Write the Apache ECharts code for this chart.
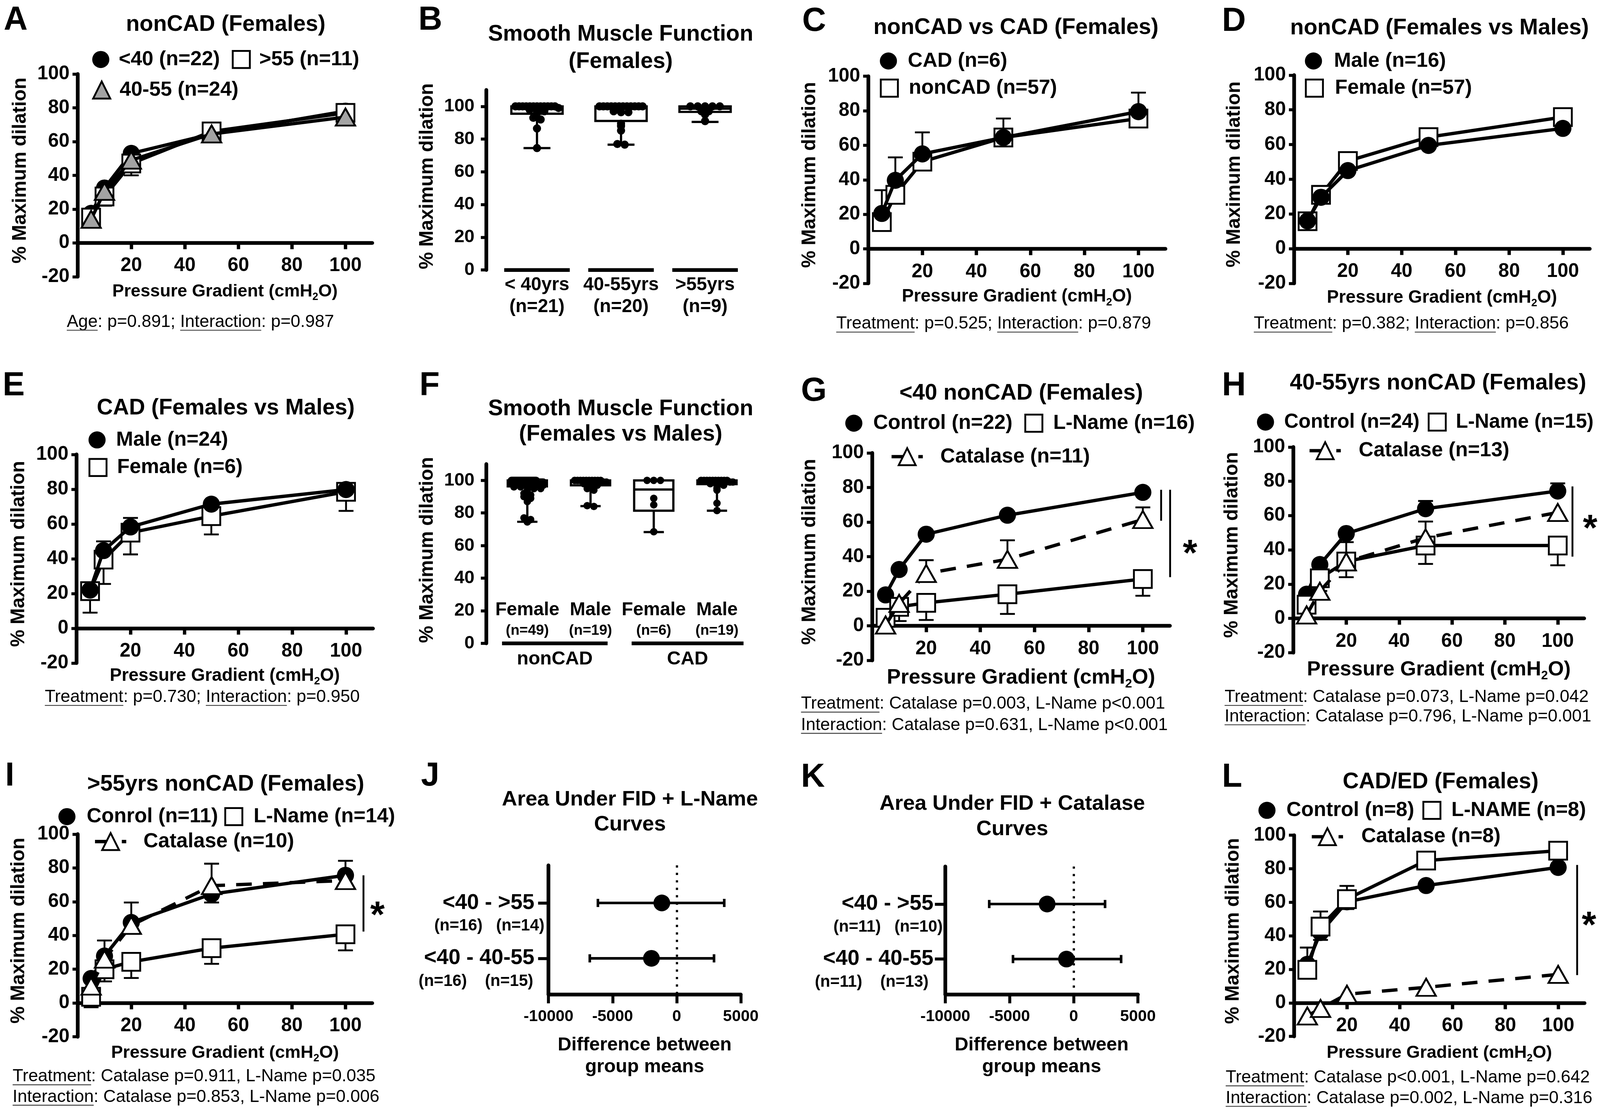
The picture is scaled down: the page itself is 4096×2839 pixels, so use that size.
<!DOCTYPE html>
<html><head><meta charset="utf-8">
<script src="https://cdn.jsdelivr.net/npm/echarts@6/dist/echarts.min.js"></script>
<style>html,body{margin:0;padding:0;background:#fff}#c{width:4096px;height:2839px}</style>
</head><body><div id="c"></div>
<script>
// ================= DATA =================
const pressure = [5, 10, 20, 50, 100];
const pressureTicks = [20, 40, 60, 80, 100];
const boxTicks = [0, 20, 40, 60, 80, 100];

// A
const aNames = ['<40 (n=22)', '>55 (n=11)', '40-55 (n=24)'];
const aUnder40 = [17.5, 32.5, 53, 64.5, 78];
const aOver55 = [15, 27.5, 47, 66, 77];
const aOver55Lo = [null, 22, 40, null, null];
const a40to55 = [14, 30.5, 49, 64.5, 74.5];
// B
const bGroups = ['< 40yrs', '40-55yrs', '>55yrs'];
const bN = ['(n=21)', '(n=20)', '(n=9)'];
const bBox = [[74.5, 95.5, 99, 100, 100], [76.6, 91.1, 99.5, 100, 100], [90.5, 96.6, 98.6, 100, 100]];
const bPoints = [
  [100,100,100,100,100,100,100,100,100,100,100,100,99,98,97,97,96,93,92,86.5,74.5],
  [100,100,100,100,100,100,100,100,100,100,100,100,97,96.4,96.4,89.4,88,85.2,77,76.6],
  [100,100,100,100,100,97,97,95,91]
];
// C
const cNames = ['CAD (n=6)', 'nonCAD (n=57)'];
const cCAD = [20.5, 39.7, 55, 64.5, 79.5];
const cCADHi = [34, 53, 67.5, 75.5, 90.5];
const cNonCAD = [15.5, 31.3, 50.5, 64.5, 75.5];
// D
const dNames = ['Male (n=16)', 'Female (n=57)'];
const dMale = [16, 29.6, 45, 59.5, 69.3];
const dFemale = [15.8, 31, 50.5, 64.3, 75.8];
// E
const eNames = ['Male (n=24)', 'Female (n=6)'];
const eMale = [22, 44.7, 58.3, 71.4, 79.8];
const eMaleHi = [null, 50, 63.5, null, null];
const eFemale = [21.4, 39.5, 55, 64.5, 78.5];
const eFemaleLo = [9, 25.5, 42.5, 54, 67.5];
// F
const fSex = ['Female', 'Male', 'Female', 'Male'];
const fN = ['(n=49)', '(n=19)', '(n=6)', '(n=19)'];
const fGroups = ['nonCAD', 'CAD'];
const fBox = [[74.6, 96.3, 99, 100, 100], [84.2, 97, 99.5, 100, 100], [68.3, 81.4, 94.4, 100, 100], [81.4, 97.7, 99.5, 100, 100]];
const fPoints = [
  [100,100,100,100,100,100,100,100,100,100,100,100,100,100,100,100,100,100,100,100,100,100,99,99,99,99,99,99,98,98,98,98,97,97,97,96,96,96,95,95,94,92,91,90,89,87,77,76,74.5],
  [100,100,100,100,100,100,100,100,100,100,99,99,98,97,97,95,94,84.5,84],
  [100,100,100,89,85,68.5],
  [100,100,100,100,100,100,100,100,100,100,99,99,98,97,97,95.2,94,86,81.5]
];
// G
const gNames = ['Control (n=22)', 'L-Name (n=16)', 'Catalase (n=11)'];
const gControl = [17.9, 32.6, 53, 64, 77.2];
const gLName = [4.7, 11, 13.3, 18.3, 27.1];
const gLNameLo = [null, 2.8, 3.4, 6.9, 17.4];
const gCatalase = [0.5, 13, 30.3, 38.5, 61.5];
const gCatalaseHi = [null, null, 38, 49.5, 68.5];
const sigG = [[106.7, 78.7, 60.8], [110, 78.7, 28.2]];
// H
const hNames = ['Control (n=24)', 'L-Name (n=15)', 'Catalase (n=13)'];
const hControl = [14.1, 31.4, 49.5, 64, 74.3];
const hControlHi = [null, null, null, 68.5, 78.8];
const hLName = [8, 23.4, 33.2, 42.5, 42.5];
const hLNameLo = [null, 16, 24, 31.8, 31];
const hCatalase = [2, 15.8, 33, 47, 61.8];
const hCatalaseHi = [null, null, 44.5, 56.5, null];
const sigH = [[105.5, 77, 36]];
// I
const iNames = ['Conrol (n=11)', 'L-Name (n=14)', 'Catalase (n=10)'];
const iControl = [14.5, 27.8, 47.7, 64.5, 75.6];
const iControlHi = [null, 37, 59.5, null, 84.2];
const iControlLo = [null, null, null, 59.5, null];
const iLName = [3.7, 20, 24.4, 32.5, 40.7];
const iLNameLo = [-2.5, 12.8, 14.8, 23.2, 31.2];
const iCatalase = [10, 26, 46, 69.5, 72.5];
const iCatalaseHi = [null, null, null, 82.5, null];
const sigI = [[106.7, 75.6, 42.3]];
// J
const jLabels = ['<40 - >55', '<40 - 40-55'];
const jGroupN = [['(n=16)', '(n=14)'], ['(n=16)', '(n=15)']];
const jMean = [-1160, -1970];
const jLow = [-6145, -6780];
const jHigh = [3710, 2913];
// K
const kLabels = ['<40 - >55', '<40 - 40-55'];
const kGroupN = [['(n=11)', '(n=10)'], ['(n=11)', '(n=13)']];
const kMean = [-2070, -565];
const kLow = [-6580, -4730];
const kHigh = [2440, 3690];
// L
const lNames = ['Control (n=8)', 'L-NAME (n=8)', 'Catalase (n=8)'];
const lControl = [23, 42, 60.3, 70, 80.8];
const lControlHi = [33, null, null, null, null];
const lControlLo = [null, 37.6, 56, null, null];
const lLName = [19.7, 45.5, 61.9, 84.9, 90.8];
const lLNameHi = [null, 54.5, 69.8, null, null];
const lLNameLo = [14.5, null, null, 79.8, null];
const lCatalase = [-7.8, -3.3, 5.2, 9.3, 17];
const lCatalaseLo = [null, null, null, 4.5, null];
const sigL = [[107.2, 82.3, 16.6]];

// stats text
const statsA = [[['Age', 1], [': p=0.891; ', 0], ['Interaction', 1], [': p=0.987', 0]]];
const statsC = [[['Treatment', 1], [': p=0.525; ', 0], ['Interaction', 1], [': p=0.879', 0]]];
const statsD = [[['Treatment', 1], [': p=0.382; ', 0], ['Interaction', 1], [': p=0.856', 0]]];
const statsE = [[['Treatment', 1], [': p=0.730; ', 0], ['Interaction', 1], [': p=0.950', 0]]];
const statsG = [[['Treatment', 1], [': Catalase p=0.003, L-Name p<0.001', 0]], [['Interaction', 1], [': Catalase p=0.631, L-Name p<0.001', 0]]];
const statsH = [[['Treatment', 1], [': Catalase p=0.073, L-Name p=0.042', 0]], [['Interaction', 1], [': Catalase p=0.796, L-Name p=0.001', 0]]];
const statsI = [[['Treatment', 1], [': Catalase p=0.911, L-Name p=0.035', 0]], [['Interaction', 1], [': Catalase p=0.853, L-Name p=0.006', 0]]];
const statsL = [[['Treatment', 1], [': Catalase p<0.001, L-Name p=0.642', 0]], [['Interaction', 1], [': Catalase p=0.002, L-Name p=0.316', 0]]];

// ================= LAYOUT / RENDER =================
const S = 0.952;
const s = v => v * S;
const FONT = "'Liberation Sans', Arial, Helvetica, sans-serif";
const BLACK = '#000';
const LH = 63;

const option = {animation: false, backgroundColor: '#fff', textStyle: {fontFamily: FONT},
  grid: [], xAxis: [], yAxis: [], series: [], legend: [], graphic: []};

const KIND = {
  dot: {symbol: 'circle', symbolSize: s(46), itemStyle: {color: BLACK}},
  sq: {symbol: 'rect', symbolSize: s(48), itemStyle: {color: '#fff', borderColor: BLACK, borderWidth: s(5)}},
  tri: {symbol: 'triangle', symbolSize: [s(52), s(46)], itemStyle: {color: '#fff', borderColor: BLACK, borderWidth: s(5)}, dashed: true},
  gtri: {symbol: 'triangle', symbolSize: [s(52), s(46)], itemStyle: {color: '#a3a3a3', borderColor: BLACK, borderWidth: s(5)}}
};

function errSeries(gi, vals, lo, hi) {
  const data = [];
  pressure.forEach((x, k) => {
    if (lo && lo[k] != null) data.push([x, vals[k], lo[k]]);
    if (hi && hi[k] != null) data.push([x, vals[k], hi[k]]);
  });
  const lw = s(5), hw = s(20);
  return {type: 'custom', xAxisIndex: gi, yAxisIndex: gi, z: 1, silent: true, clip: false, data,
    encode: {x: 0, y: [1, 2]},
    renderItem(params, api) {
      const p0 = api.coord([api.value(0), api.value(1)]);
      const p1 = api.coord([api.value(0), api.value(2)]);
      return {type: 'group', children: [
        {type: 'line', shape: {x1: p0[0], y1: p0[1], x2: p1[0], y2: p1[1]}, style: {stroke: BLACK, lineWidth: lw}},
        {type: 'line', shape: {x1: p1[0] - hw, y1: p1[1], x2: p1[0] + hw, y2: p1[1]}, style: {stroke: BLACK, lineWidth: lw}}
      ]};
    }};
}

function addLegendRow(r) {
  option.legend.push({
    left: s(r.left), top: s(r.cy) - s(LH) / 2, width: 2400, orient: 'horizontal', padding: 0,
    itemGap: s(r.gap || 30), itemWidth: s(r.iw || 46), itemHeight: s(r.ih || 46), selectedMode: false,
    data: r.items,
    textStyle: {fontFamily: FONT, fontWeight: 'bold', fontSize: s(r.fs || 55), color: BLACK, lineHeight: s(LH), padding: [0, 0, 0, s(r.pad)]},
    itemStyle: {borderWidth: s(5)}, lineStyle: {width: s(9)}
  });
}

function gText(x, y, text, fs, extra) {
  option.graphic.push({type: 'text', x: s(x), y: s(y), silent: true,
    style: Object.assign({text, fontSize: s(fs), fontWeight: 'bold', fontFamily: FONT, fill: BLACK, align: 'center', verticalAlign: 'middle'}, extra || {})});
}

const mctx = document.createElement('canvas').getContext('2d');
function statsLines(lines, x, y0, dy, anchor) {
  const fs = s(46.7);
  mctx.font = fs + "px 'Liberation Sans'";
  lines.forEach((parts, li) => {
    const y = s(y0 + li * dy);
    const widths = parts.map(p => mctx.measureText(p[0]).width);
    const total = widths.reduce((a, b) => a + b, 0);
    let cx = anchor === 'center' ? s(x) - total / 2 : s(x);
    parts.forEach((p, i) => {
      option.graphic.push({type: 'text', x: cx, y: y, silent: true,
        style: {text: p[0], fontSize: fs, fontFamily: FONT, fontWeight: 'normal', fill: BLACK, align: 'left', verticalAlign: 'middle'}});
      if (p[1]) option.graphic.push({type: 'line', silent: true,
        shape: {x1: cx, y1: y + fs * 0.47, x2: cx + widths[i], y2: y + fs * 0.47}, style: {stroke: '#444', lineWidth: s(2.5)}});
      cx += widths[i];
    });
  });
}

function addLinePanel(p) {
  const gi = option.grid.length;
  option.grid.push({left: s(p.x0), top: s(p.yTop), width: s(p.x110 - p.x0), height: s(p.yBot - p.yTop)});
  const y0 = p.yTop + (p.yBot - p.yTop) * 100 / 120;
  const xfs = p.xFs;
  option.xAxis.push({
    gridIndex: gi, type: 'value', min: 0, max: 110, position: 'bottom', offset: -s(p.yBot - y0),
    axisLine: {show: true, onZero: false, lineStyle: {color: BLACK, width: s(10)}},
    axisTick: {show: true, customValues: pressureTicks, length: s(17), lineStyle: {color: BLACK, width: s(9)}},
    axisLabel: {customValues: pressureTicks, color: BLACK, fontFamily: FONT, fontWeight: 'bold', fontSize: s(52), lineHeight: s(62), margin: s(31)},
    splitLine: {show: false},
    name: '{a|Pressure Gradient (cmH}{b|2}{a|O)}', nameLocation: 'middle',
    nameGap: s(p.xNameCY - y0 - 0.655 * xfs),
    nameTextStyle: {rich: {
      a: {fontFamily: FONT, fontWeight: 'bold', fontSize: s(xfs), color: BLACK, lineHeight: s(xfs * 1.15)},
      b: {fontFamily: FONT, fontWeight: 'bold', fontSize: s(xfs * 0.6), color: BLACK, lineHeight: s(xfs * 0.69), padding: [s(xfs * 0.62), 0, 0, 0]}
    }}
  });
  option.yAxis.push({
    gridIndex: gi, type: 'value', min: -20, max: 100, interval: 20,
    axisLine: {show: true, onZero: false, lineStyle: {color: BLACK, width: s(10)}},
    axisTick: {show: true, length: s(14), lineStyle: {color: BLACK, width: s(8)}},
    axisLabel: {color: BLACK, fontFamily: FONT, fontWeight: 'bold', fontSize: s(52), margin: s(22)},
    splitLine: {show: false},
    name: '% Maximum dilation', nameLocation: 'middle', nameGap: s(p.x0 - p.yNameCX - 31),
    nameTextStyle: {fontFamily: FONT, fontWeight: 'bold', fontSize: s(52), color: BLACK, lineHeight: s(62), padding: [0, 0, 0, s(26)]}
  });
  p.series.forEach(se => { if (se.lo || se.hi) option.series.push(errSeries(gi, se.vals, se.lo, se.hi)); });
  p.series.forEach((se, idx) => {
    const k = KIND[se.kind];
    const ser = {type: 'line', name: se.name, xAxisIndex: gi, yAxisIndex: gi, z: 3 + idx, silent: true,
      data: pressure.map((x, j) => [x, se.vals[j]]),
      symbol: k.symbol, symbolSize: k.symbolSize, showAllSymbol: true, itemStyle: k.itemStyle,
      lineStyle: {color: BLACK, width: s(9), type: k.dashed ? [s(42), s(30)] : 'solid'},
      emphasis: {disabled: true}};
    if (idx === p.series.length - 1 && p.sig) {
      ser.markLine = {silent: true, symbol: ['none', 'none'], label: {show: false}, animation: false,
        lineStyle: {type: 'solid', width: s(5), color: BLACK},
        data: p.sig.map(g => [{coord: [g[0], g[1]]}, {coord: [g[0], g[2]]}])};
    }
    option.series.push(ser);
  });
  p.legends.forEach(addLegendRow);
  gText(p.letter[1], p.letter[2], p.letter[0], 89, {align: 'left'});
  gText(p.title[1], p.title[2], p.title[0], 60);
  if (p.star) gText(p.star[0], p.star[1] + 24, '*', 100);
  statsLines(p.stats, p.statsPos[0], p.statsPos[1], p.statsPos[2], p.statsPos[3]);
}

function dodge(vals, dotPx, spanPx, bandPx) {
  const sorted = vals.slice().sort((a, b) => b - a);
  const out = [];
  let i = 0;
  while (i < sorted.length) {
    let j = i;
    while (j + 1 < sorted.length && sorted[i] - sorted[j + 1] <= 1.2) j++;
    const k = j - i + 1;
    const sp = k > 1 ? Math.min(dotPx * 0.9, spanPx / (k - 1)) : 0;
    for (let m = 0; m < k; m++) out.push([sorted[i + m], ((m - (k - 1) / 2) * sp) / bandPx]);
    i = j + 1;
  }
  return out;
}

function addBoxPanel(p) {
  const gi = option.grid.length;
  const n = p.box.length;
  option.grid.push({left: s(p.left), top: s(p.yTop), width: s(p.width), height: s(p.yBot - p.yTop)});
  option.xAxis.push({gridIndex: gi, type: 'category', data: p.cats.map((c, i) => i),
    axisLine: {show: false}, axisTick: {show: false}, splitLine: {show: false},
    axisLabel: Object.assign({color: BLACK, fontFamily: FONT, fontWeight: 'bold', interval: 0, formatter: p.labelFmt, rich: p.labelRich}, p.labelOpt)});
  option.yAxis.push({gridIndex: gi, type: 'value', min: 0, max: 110, offset: s(p.yOffset),
    axisLine: {show: true, onZero: false, lineStyle: {color: BLACK, width: s(10)}},
    axisTick: {show: true, customValues: boxTicks, length: s(14), lineStyle: {color: BLACK, width: s(8)}},
    axisLabel: {customValues: boxTicks, color: BLACK, fontFamily: FONT, fontWeight: 'bold', fontSize: s(49), margin: s(31)},
    splitLine: {show: false},
    name: '% Maximum dilation', nameLocation: 'middle', nameGap: s(158 - 31),
    nameTextStyle: {fontFamily: FONT, fontWeight: 'bold', fontSize: s(52), color: BLACK, lineHeight: s(62), padding: [0, 0, 0, s(20)]}});
  const bandFull = p.width / n;
  const lw = s(6);
  option.series.push({type: 'custom', xAxisIndex: gi, yAxisIndex: gi, silent: true, clip: false, z: 1,
    data: p.segments.map((g, i) => [g[0], g[1], i]),
    renderItem(params, api) {
      const band = api.size([1, 0])[0];
      const a = api.coord([api.value(0), 0]), b = api.coord([api.value(1), 0]);
      const seg = p.segments[api.value(2)];
      const x1 = a[0] - seg[2] * band, x2 = b[0] + seg[3] * band;
      const ch = [{type: 'line', shape: {x1, y1: a[1], x2, y2: a[1]}, style: {stroke: BLACK, lineWidth: s(10)}}];
      if (p.groupNames) ch.push({type: 'text', x: (x1 + x2) / 2, y: a[1] + s(43), style: {text: p.groupNames[api.value(2)], fontSize: s(51), fontWeight: 'bold', fontFamily: FONT, fill: BLACK, align: 'center', verticalAlign: 'middle'}});
      return {type: 'group', children: ch};
    }});
  option.series.push({type: 'custom', xAxisIndex: gi, yAxisIndex: gi, silent: true, z: 2,
    data: p.box.map((b, i) => [i].concat(b)),
    renderItem(params, api) {
      const i = api.value(0);
      const band = api.size([1, 0])[0];
      const y = v => api.coord([i, v])[1];
      const x = api.coord([i, 0])[0];
      const hw = band * p.boxFrac / 2, cw = band * p.capFrac / 2;
      const yMin = y(api.value(1)), yQ1 = y(api.value(2)), yMed = y(api.value(3)), yQ3 = y(api.value(4)), yMax = y(api.value(5));
      const st = {stroke: BLACK, lineWidth: lw};
      return {type: 'group', children: [
        {type: 'line', shape: {x1: x, y1: yQ1, x2: x, y2: yMin}, style: st},
        {type: 'line', shape: {x1: x, y1: yQ3, x2: x, y2: yMax}, style: st},
        {type: 'line', shape: {x1: x - cw, y1: yMin, x2: x + cw, y2: yMin}, style: st},
        {type: 'line', shape: {x1: x - cw, y1: yMax, x2: x + cw, y2: yMax}, style: st},
        {type: 'rect', shape: {x: x - hw, y: yQ3, width: 2 * hw, height: yQ1 - yQ3}, style: {stroke: BLACK, lineWidth: lw, fill: '#fff'}},
        {type: 'line', shape: {x1: x - hw, y1: yMed, x2: x + hw, y2: yMed}, style: st}
      ]};
    }});
  const dots = [];
  p.points.forEach((vals, i) => {
    dodge(vals, s(p.dot), s(bandFull * p.boxFrac - p.dot), s(bandFull)).forEach(d => dots.push([i, d[0], d[1]]));
  });
  option.series.push({type: 'custom', xAxisIndex: gi, yAxisIndex: gi, silent: true, z: 3, data: dots,
    renderItem(params, api) {
      const band = api.size([1, 0])[0];
      const c = api.coord([api.value(0), api.value(1)]);
      return {type: 'circle', shape: {cx: c[0] + api.value(2) * band, cy: c[1], r: s(p.dot) / 2}, style: {fill: BLACK}};
    }});
  gText(p.letter[1], p.letter[2], p.letter[0], 89, {align: 'left'});
  p.title.forEach(t => gText(t[1], t[2], t[0], 60));
}

function addForest(p) {
  const gi = option.grid.length;
  option.grid.push({left: s(p.left), top: s(p.top), width: s(p.right - p.left), height: s(p.bottom - p.top)});
  option.xAxis.push({gridIndex: gi, type: 'value', min: -10000, max: 5000, interval: 5000,
    axisLine: {show: true, onZero: false, lineStyle: {color: BLACK, width: s(10)}},
    axisTick: {show: true, length: s(24), lineStyle: {color: BLACK, width: s(8)}},
    axisLabel: {color: BLACK, fontFamily: FONT, fontWeight: 'bold', fontSize: s(43), lineHeight: s(52), margin: s(34), formatter: v => String(v)},
    splitLine: {show: false},
    name: 'Difference between\ngroup means', nameLocation: 'middle', nameGap: s(108),
    nameTextStyle: {fontFamily: FONT, fontWeight: 'bold', fontSize: s(51), color: BLACK, lineHeight: s(58)}});
  const rowsN = p.groupN;
  option.yAxis.push({gridIndex: gi, type: 'value', inverse: true, min: p.ymin, max: p.ymax,
    axisLine: {show: true, onZero: false, lineStyle: {color: BLACK, width: s(10)}},
    axisTick: {show: true, customValues: [1, 2], length: s(28), lineStyle: {color: BLACK, width: s(8)}},
    axisLabel: {customValues: [1, 2], margin: s(p.labelMargin), showMinLabel: true, showMaxLabel: true,
      color: BLACK, fontFamily: FONT, fontWeight: 'bold', fontSize: s(57.7),
      formatter: v => p.labels[Math.round(v) - 1]},
    splitLine: {show: false}});
  option.series.push({type: 'custom', xAxisIndex: gi, yAxisIndex: gi, silent: true, z: 2, clip: false,
    data: p.low.map((lo, i) => [lo, i + 1, p.high[i]]),
    renderItem(params, api) {
      const row = api.value(1);
      const a = api.coord([api.value(0), row]), b = api.coord([api.value(2), row]);
      const axisX = api.coord([-10000, row])[0];
      const r = row - 1;
      const st = {stroke: BLACK, lineWidth: s(7)}, h = s(11);
      return {type: 'group', children: [
        {type: 'line', shape: {x1: a[0], y1: a[1], x2: b[0], y2: b[1]}, style: st},
        {type: 'line', shape: {x1: a[0], y1: a[1] - h, x2: a[0], y2: a[1] + h}, style: st},
        {type: 'line', shape: {x1: b[0], y1: b[1] - h, x2: b[0], y2: b[1] + h}, style: st},
        {type: 'text', x: axisX - s(p.subMargin[r]), y: a[1] + s(62), silent: true,
          style: {text: rowsN[r][0] + p.gaps[r] + rowsN[r][1], fontSize: s(43.7), fontWeight: 'bold', fontFamily: FONT, fill: BLACK, align: 'right', verticalAlign: 'middle'}}
      ]};
    }});
  option.series.push({type: 'scatter', xAxisIndex: gi, yAxisIndex: gi, silent: true, z: 3,
    data: p.mean.map((m, i) => [m, i + 1]), symbol: 'circle', symbolSize: s(45), itemStyle: {color: BLACK, opacity: 1},
    markLine: {silent: true, symbol: ['none', 'none'], label: {show: false}, animation: false,
      lineStyle: {type: [s(6), s(14)], width: s(6), color: BLACK, opacity: 1}, data: [{xAxis: 0}]}});
  gText(p.letter[1], p.letter[2], p.letter[0], 89, {align: 'left'});
  p.title.forEach(t => gText(t[1], t[2], t[0], 57));
}

// ---------- Panels ----------
addLinePanel({x0: 209, x110: 1001, yTop: 199, yBot: 744, xNameCY: 788, xFs: 47, yNameCX: 55,
  letter: ['A', 10, 55], title: ['nonCAD (Females)', 607, 66],
  series: [{name: aNames[0], vals: aUnder40, kind: 'dot'}, {name: aNames[1], vals: aOver55, kind: 'sq', lo: aOver55Lo}, {name: aNames[2], vals: a40to55, kind: 'gtri'}],
  legends: [{left: 248, cy: 160, gap: 32, pad: 20, items: [{name: aNames[0], icon: 'circle'}, {name: aNames[1], icon: 'rect'}]},
            {left: 248, cy: 242, pad: 20, items: [{name: aNames[2], icon: 'triangle'}]}],
  stats: statsA, statsPos: [539, 866, 0, 'center']});

addBoxPanel({left: 1331, width: 678, yTop: 242, yBot: 726, yOffset: 24, letter: ['B', 1125, 55],
  title: [['Smooth Muscle Function', 1669, 93], ['(Females)', 1669, 166]],
  cats: bGroups, box: bBox, points: bPoints, boxFrac: 0.61, capFrac: 0.32, dot: 22,
  segments: [[0, 0, 0.39, 0.39], [1, 1, 0.39, 0.39], [2, 2, 0.39, 0.39]],
  labelFmt: (v, i) => '{a|' + bGroups[i] + '}\n{a|' + bN[i] + '}',
  labelRich: {a: {fontFamily: FONT, fontWeight: 'bold', fontSize: s(50), color: BLACK, lineHeight: s(58)}},
  labelOpt: {margin: s(12)}});

addLinePanel({x0: 2335, x110: 3134, yTop: 205, yBot: 762, xNameCY: 802, xFs: 48, yNameCX: 2178,
  letter: ['C', 2157, 58], title: ['nonCAD vs CAD (Females)', 2732, 75],
  series: [{name: cNames[1], vals: cNonCAD, kind: 'sq'}, {name: cNames[0], vals: cCAD, kind: 'dot', hi: cCADHi}],
  legends: [{left: 2366, cy: 164, pad: 24, items: [{name: cNames[0], icon: 'circle'}]},
            {left: 2366, cy: 237, pad: 24, items: [{name: cNames[1], icon: 'rect'}]}],
  stats: statsC, statsPos: [2672, 871, 0, 'center']});

addLinePanel({x0: 3480, x110: 4275, yTop: 202, yBot: 762, xNameCY: 805, xFs: 48, yNameCX: 3320,
  letter: ['D', 3286, 58], title: ['nonCAD (Females vs Males)', 3871, 76],
  series: [{name: dNames[1], vals: dFemale, kind: 'sq'}, {name: dNames[0], vals: dMale, kind: 'dot'}],
  legends: [{left: 3509, cy: 164, pad: 27, items: [{name: dNames[0], icon: 'circle'}]},
            {left: 3509, cy: 237, pad: 27, items: [{name: dNames[1], icon: 'rect'}]}],
  stats: statsD, statsPos: [3795, 871, 0, 'center']});

addLinePanel({x0: 206, x110: 1003, yTop: 1222, yBot: 1783, xNameCY: 1821, xFs: 48, yNameCX: 51,
  letter: ['E', 7, 1039], title: ['CAD (Females vs Males)', 607, 1098],
  series: [{name: eNames[1], vals: eFemale, kind: 'sq', lo: eFemaleLo}, {name: eNames[0], vals: eMale, kind: 'dot', hi: eMaleHi}],
  legends: [{left: 238, cy: 1183, pad: 23, items: [{name: eNames[0], icon: 'circle'}]},
            {left: 238, cy: 1257, pad: 23, items: [{name: eNames[1], icon: 'rect'}]}],
  stats: statsE, statsPos: [544, 1875, 0, 'center']});

addBoxPanel({left: 1333, width: 680, yTop: 1248, yBot: 1730, yOffset: 26, letter: ['F', 1128, 1039],
  title: [['Smooth Muscle Function', 1669, 1100], ['(Females vs Males)', 1669, 1168]],
  cats: fSex, box: fBox, points: fPoints, boxFrac: 0.62, capFrac: 0.32, dot: 20,
  segments: [[0, 1, 0.4, 0.27], [2, 3, 0.35, 0.42]], groupNames: fGroups,
  labelFmt: (v, i) => '{a|' + fSex[i] + '}\n{b|' + fN[i] + '}',
  labelRich: {a: {fontFamily: FONT, fontWeight: 'bold', fontSize: s(50), color: BLACK, lineHeight: s(58)},
              b: {fontFamily: FONT, fontWeight: 'bold', fontSize: s(39), color: BLACK, lineHeight: s(52)}},
  labelOpt: {inside: true, margin: s(8)}});

addLinePanel({x0: 2345, x110: 3146, yTop: 1218, yBot: 1776, xNameCY: 1827, xFs: 56, yNameCX: 2178,
  letter: ['G', 2154, 1053], title: ['<40 nonCAD (Females)', 2746, 1058],
  series: [{name: gNames[0], vals: gControl, kind: 'dot'}, {name: gNames[1], vals: gLName, kind: 'sq', lo: gLNameLo}, {name: gNames[2], vals: gCatalase, kind: 'tri', hi: gCatalaseHi}],
  sig: sigG, star: [3200, 1468],
  legends: [{left: 2273, cy: 1138, gap: 32, pad: 24, items: [{name: gNames[0], icon: 'circle'}, {name: gNames[1], icon: 'rect'}]},
            {left: 2393, cy: 1228, iw: 84, ih: 57, pad: 42, items: [{name: gNames[2]}]}],
  stats: statsG, statsPos: [2154, 1893, 57, 'left']});

addLinePanel({x0: 3478, x110: 4260, yTop: 1202, yBot: 1755, xNameCY: 1805, xFs: 55, yNameCX: 3313,
  letter: ['H', 3286, 1039], title: ['40-55yrs nonCAD (Females)', 3867, 1031],
  series: [{name: hNames[0], vals: hControl, kind: 'dot', hi: hControlHi}, {name: hNames[1], vals: hLName, kind: 'sq', lo: hLNameLo}, {name: hNames[2], vals: hCatalase, kind: 'tri', hi: hCatalaseHi}],
  sig: sigH, star: [4276, 1401],
  legends: [{left: 3380, cy: 1135, gap: 22, pad: 22, fs: 53.5, items: [{name: hNames[0], icon: 'circle'}, {name: hNames[1], icon: 'rect'}]},
            {left: 3517, cy: 1212, iw: 84, ih: 57, pad: 43, items: [{name: hNames[2]}]}],
  stats: statsH, statsPos: [3293, 1875, 52, 'left']});

addLinePanel({x0: 209, x110: 1001, yTop: 2243, yBot: 2788, xNameCY: 2835, xFs: 47.5, yNameCX: 51,
  letter: ['I', 14, 2088], title: ['>55yrs nonCAD (Females)', 607, 2110],
  series: [{name: iNames[0], vals: iControl, kind: 'dot', hi: iControlHi, lo: iControlLo}, {name: iNames[1], vals: iLName, kind: 'sq', lo: iLNameLo}, {name: iNames[2], vals: iCatalase, kind: 'tri', hi: iCatalaseHi}],
  sig: sigI, star: [1015, 2441],
  legends: [{left: 157, cy: 2196, gap: 17, pad: 25, items: [{name: iNames[0], icon: 'circle'}, {name: iNames[1], icon: 'rect'}]},
            {left: 251, cy: 2263, iw: 84, ih: 57, pad: 41, items: [{name: iNames[2]}]}],
  stats: statsI, statsPos: [34, 2895, 55, 'left']});

addForest({left: 1475, right: 1992, top: 2327, bottom: 2674, ymin: 0.322, ymax: 2.651,
  letter: ['J', 1132, 2088], title: [['Area Under FID + L-Name', 1694, 2150], ['Curves', 1694, 2218]],
  labels: jLabels, groupN: jGroupN, gaps: ['   ', '    '], labelMargin: 38, subMargin: [11, 41],
  mean: jMean, low: jLow, high: jHigh});

addForest({left: 2542, right: 3060, top: 2330, bottom: 2674, ymin: 0.318, ymax: 2.642,
  letter: ['K', 2154, 2091], title: [['Area Under FID + Catalase', 2722, 2162], ['Curves', 2722, 2230]],
  labels: kLabels, groupN: kGroupN, gaps: ['   ', '    '], labelMargin: 32, subMargin: [7, 45],
  mean: kMean, low: kLow, high: kHigh});

addLinePanel({x0: 3480, x110: 4261, yTop: 2246, yBot: 2787, xNameCY: 2835, xFs: 47, yNameCX: 3317,
  letter: ['L', 3286, 2091], title: ['CAD/ED (Females)', 3874, 2103],
  series: [{name: lNames[0], vals: lControl, kind: 'dot', hi: lControlHi, lo: lControlLo}, {name: lNames[1], vals: lLName, kind: 'sq', hi: lLNameHi, lo: lLNameLo}, {name: lNames[2], vals: lCatalase, kind: 'tri', lo: lCatalaseLo}],
  sig: sigL, star: [4273, 2468],
  legends: [{left: 3384, cy: 2179, gap: 22, pad: 24, items: [{name: lNames[0], icon: 'circle'}, {name: lNames[1], icon: 'rect'}]},
            {left: 3523, cy: 2250, iw: 84, ih: 57, pad: 44, items: [{name: lNames[2]}]}],
  stats: statsL, statsPos: [3296, 2898, 55, 'left']});

const chart = echarts.init(document.getElementById('c'), null, {renderer: 'canvas'});
chart.setOption(option);
</script>
</body></html>
